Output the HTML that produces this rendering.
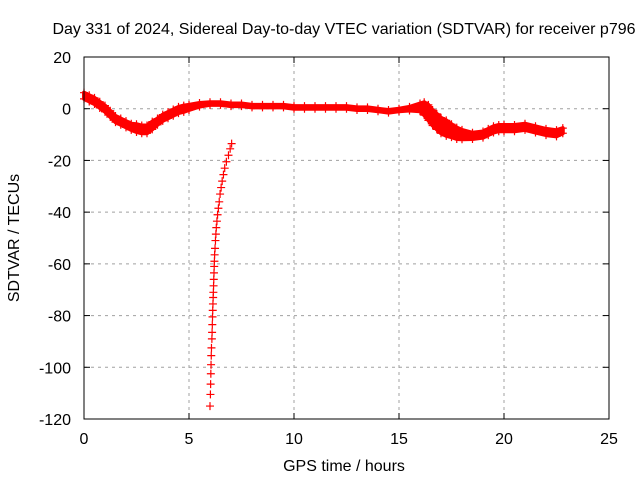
<!DOCTYPE html>
<html><head><meta charset="utf-8"><style>
body{margin:0;background:#fff}
svg{display:block;font-family:"Liberation Sans",sans-serif}
</style></head><body>
<svg id="chart" width="640" height="480">
<rect width="640" height="480" fill="#fff"/>
<text x="344" y="34" font-size="16" text-anchor="middle">Day 331 of 2024, Sidereal Day-to-day VTEC variation (SDTVAR) for receiver p796</text>
<text x="344" y="471" font-size="16" text-anchor="middle">GPS time / hours</text>
<text transform="translate(19,238) rotate(-90)" font-size="16" text-anchor="middle">SDTVAR / TECUs</text>
<g id="grid"></g>
<g id="ticks"></g>
<g id="series"></g>
<rect x="84" y="57" width="525" height="362" fill="none" stroke="#000" stroke-width="1"/>
</svg>
<script>
const xTicks=[0,5,10,15,20,25];
const yTicks=[20,0,-20,-40,-60,-80,-100,-120];
const mainT=[0,0.25,0.5,0.75,1,1.25,1.5,1.75,2,2.25,2.5,2.75,3,3.25,3.5,3.75,4,4.25,4.5,4.75,5,5.5,6,6.5,7,7.5,8,8.5,9,9.5,10,10.5,11,11.5,12,12.5,13,13.5,14,14.5,15,15.5,16,16.2,16.4,16.6,16.8,17,17.25,17.5,17.75,18,18.5,19,19.25,19.5,19.75,20,20.5,21,21.5,22,22.5,22.8];
const mainV=[5,4,3,1.5,0,-2,-4,-5,-6,-7,-7.5,-8,-8,-6.5,-5,-3.5,-2.5,-1.5,-0.5,0,0.5,1.5,2,2,1.5,1.5,1,1,1,1,0.5,0.5,0.5,0.5,0.5,0.5,0,0,-0.5,-1,-0.5,0,0.5,0,-1.5,-3.5,-5,-6.5,-7.5,-8.5,-9.5,-10,-10.5,-10,-9,-8,-7.5,-7.5,-7.5,-7,-8,-9,-9.5,-8.5];
const mainW=[1.2,1.2,1.2,1.2,1.2,1.2,1.2,1.2,1.2,1.2,1.5,1.5,1.5,1.5,1.2,1.2,1.2,1.2,1.2,1.2,1,0.7,0.5,0.5,0.5,0.5,0.5,0.5,0.5,0.5,0.5,0.5,0.5,0.5,0.5,0.5,0.5,0.5,0.5,0.5,0.5,0.7,1.5,2.5,3,3,3,3,3,2.5,2.2,1.8,1.2,1.2,1.2,1.2,1.2,1.2,1.2,1.2,1.2,1.2,1.2,1];
const dipT=[6.0,6.02,6.03,6.04,6.05,6.06,6.07,6.09,6.1,6.11,6.12,6.13,6.14,6.15,6.16,6.17,6.18,6.19,6.2,6.21,6.22,6.24,6.26,6.28,6.3,6.33,6.36,6.4,6.44,6.48,6.53,6.58,6.64,6.7,6.78,6.88,6.96,7.03];
const dipV=[-115,-110.5,-106.5,-102.5,-99,-95.5,-92.5,-89,-86.5,-83.5,-80.5,-78,-75.5,-73,-71,-68.5,-66,-63.5,-61,-59,-56.5,-54,-51,-48.5,-46,-43.5,-41,-38.5,-36,-33,-30.5,-28,-25.5,-23,-20.5,-18,-15.5,-13.5];
const X=t=>84+t*21, Y=v=>57+(20-v)*362/140;
const NS='http://www.w3.org/2000/svg';
function mk(tag,attrs,parent){const e=document.createElementNS(NS,tag);for(const k in attrs)e.setAttribute(k,attrs[k]);parent.appendChild(e);return e;}
const gridG=document.getElementById('grid'),ticksG=document.getElementById('ticks'),ser=document.getElementById('series');
xTicks.forEach(t=>{
 if(t>0&&t<25){const g=mk('line',{x1:X(t),x2:X(t),y1:57,y2:419,stroke:'#a0a0a0','stroke-dasharray':'3,4'},gridG);
 
 }
 mk('line',{x1:X(t),x2:X(t),y1:419,y2:413,stroke:'#000'},ticksG);
 mk('line',{x1:X(t),x2:X(t),y1:57,y2:63,stroke:'#000'},ticksG);
 const l=mk('text',{x:X(t),y:444,'font-size':16,'text-anchor':'middle'},ticksG);l.textContent=t;
 
 
});
yTicks.forEach(v=>{
 if(v<20&&v>-120){const g=mk('line',{x1:84,x2:609,y1:Y(v),y2:Y(v),stroke:'#a0a0a0','stroke-dasharray':'3,4'},gridG);
 
 }
 mk('line',{x1:84,x2:90,y1:Y(v),y2:Y(v),stroke:'#000'},ticksG);
 mk('line',{x1:609,x2:603,y1:Y(v),y2:Y(v),stroke:'#000'},ticksG);
 const l=mk('text',{x:71,y:Y(v)+6,'font-size':16,'text-anchor':'end'},ticksG);l.textContent=v;
 
 
});
let upperPath='',lowerPath='';
mainT.forEach((t,i)=>{upperPath+=(i?'L':'M')+X(t)+','+Y(mainV[i]+mainW[i]);});
for(let i=mainT.length-1;i>=0;i--)lowerPath+='L'+X(mainT[i])+','+Y(mainV[i]-mainW[i]);
const band=mk('path',{d:upperPath+lowerPath+'Z',fill:'#f00',stroke:'#f00','stroke-width':4,'stroke-linejoin':'round'},ser);


function plus(t,v){const x=X(t),y=Y(v);const p=mk('path',{d:`M${x-4},${y}H${x+4}M${x},${y-4}V${y+4}`,stroke:'#f00','stroke-width':1.2},ser);
 
 }
mainT.forEach((t,i)=>{plus(t,mainV[i]+mainW[i]);plus(t,mainV[i]-mainW[i]);});
dipT.forEach((t,i)=>plus(t,dipV[i]));
</script>
</body></html>
